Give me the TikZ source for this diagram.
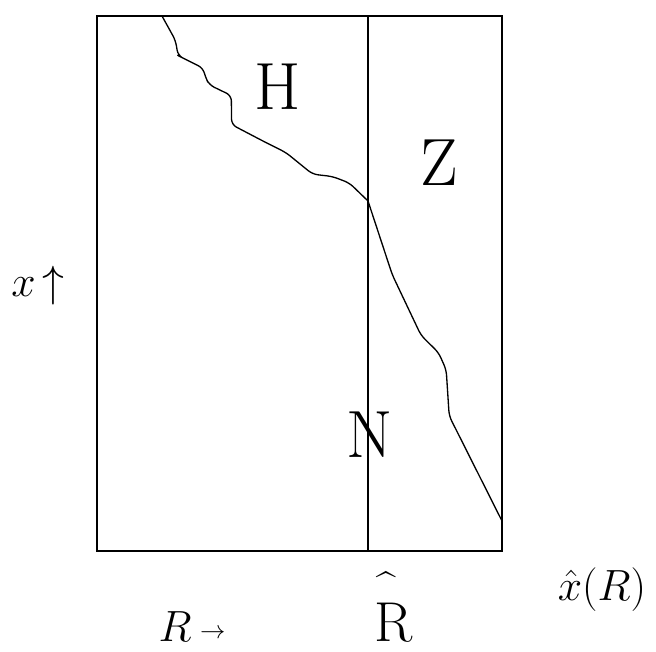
\documentclass[tikz,border=0pt]{standalone}
\usepackage{tikz}

\tikzset{
  region/.style={font=\fontsize{38}{38}\selectfont, inner sep=0pt},
  axislab/.style={font=\fontsize{29}{29}\selectfont, inner sep=0pt},
}

\begin{document}
\begin{tikzpicture}[x=0.02cm, y=-0.02cm, line width=0.75pt]
            \useasboundingbox (0,0) rectangle (656,652);
            % frame and the line at R hat
            \coordinate (A) at (97,16);   \coordinate (B) at (502,16);
            \coordinate (C) at (502,551); \coordinate (D) at (97,551);
            \coordinate (T) at (368,16);  \coordinate (S) at (368,551);
            \coordinate (K) at (368,201);
            \draw (A) -- (B) -- (C) -- (D) -- cycle;
            \draw (T) -- (S);
            % boundary x hat (R)
            \draw[rounded corners=3] (162,16) -- (175.5,40.4) -- (178,55.5) -- (182,57.6)
                -- (203,68) -- (205.7,78) -- (209.5,85) -- (231.3,95.5) -- (231.6,124.6)
                -- (263.3,141.2) -- (286,152.6) -- (312.6,174.2) -- (332.5,176.5)
                -- (349.4,183) -- (K);
            \draw[rounded corners=3] (K) -- (392.3,274.8) -- (421,335.3) -- (438.6,352.7)
                -- (446.2,369.8) -- (449.2,416) -- (502,521);
            % labels
            \node[region] (H) at (278,87) {H};
            \node[region] (Z) at (439,163) {Z};
            \node[region] (N) at (370,435) {N};
            \node[axislab] (xup) at (38,286) {\fontsize{24}{24}\selectfont$x$\,\fontsize{34}{34}\selectfont$\uparrow$};
            \node[axislab] (Rright) at (192,627) {$R$\,\raisebox{2pt}{\fontsize{14}{14}\selectfont$\rightarrow$}};
            \node[axislab, anchor=base, font=\fontsize{32}{32}\selectfont] (Rhat) at (394,641)
                {\rlap{\hspace{1pt}\raisebox{25pt}{\fontsize{20}{20}\selectfont\^{}}}R};
            \node[axislab] (xhat) at (602,590) {$\hat{x}(R)$};
        \end{tikzpicture}
\end{document}
